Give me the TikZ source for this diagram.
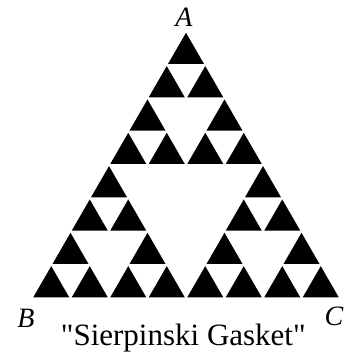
\documentclass[tikz,border=0pt]{standalone}
\usepackage{fontspec}
\setmainfont{Liberation Serif}[Ligatures=TeXOff]
\begin{document}
\begin{tikzpicture}[x=1pt,y=-1pt,
  lbl/.style={anchor=base,inner sep=0pt,font=\fontsize{28}{30}\selectfont\itshape},
  captext/.style={anchor=base,inner sep=0pt,font=\fontsize{31}{34}\selectfont}]
\useasboundingbox (0,0) rectangle (347,355);
\def\s{19.25}\def\hh{33.34}\def\f{0.935}
\foreach \r/\k in {0/0,1/0,1/1,2/0,2/2,3/0,3/1,3/2,3/3,4/0,4/4,5/0,5/1,5/4,5/5,
                   6/0,6/2,6/4,6/6,7/0,7/1,7/2,7/3,7/4,7/5,7/6,7/7}{
  \pgfmathsetmacro\cx{186+(2*\k-\r)*\s}
  \pgfmathsetmacro\cy{31.3+\r*\hh+2*\hh/3}
  \fill[black] (\cx,{\cy-\f*2*\hh/3}) -- ({\cx-\f*\s},{\cy+\f*\hh/3}) -- ({\cx+\f*\s},{\cy+\f*\hh/3}) -- cycle;
}
\node[lbl] (A) at (184,26.5) {A};
\node[lbl] (B) at (26,327) {B};
\node[lbl] (C) at (334,325) {C};
\node[captext] (T) at (183.3,345.5) {"Sierpinski Gasket"};
\end{tikzpicture}
\end{document}
